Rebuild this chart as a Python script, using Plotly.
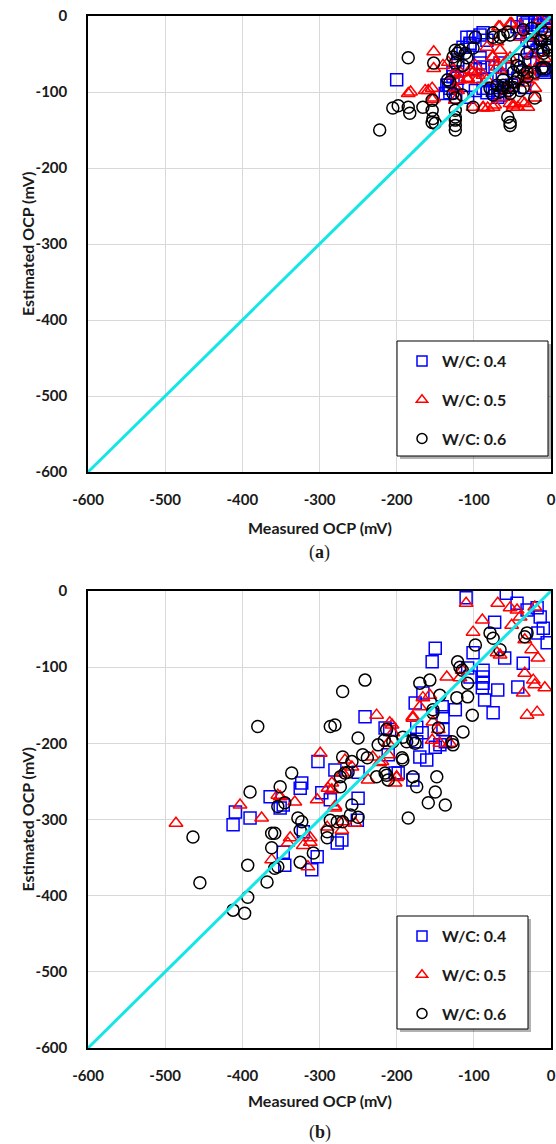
import plotly.graph_objects as go

W, H = 556, 1144

# ---- (a) measured vs. estimated OCP (mV) ----
a_wc04_measured = [-200, -135, -137, -127, -121, -121, -131, -121, -133, -127, -131, -124, -122,
                   -101, -92, -105, -92, -88, -83, -88, -83, -76, -66, -69, -60, -51, -43, -34,
                   -36, -33, -27, -14, -8, -4, -5, -12, -8, -8, -14, -18, -31, -27, -109, -105,
                   -114, -88, -83, -44, -31, -21, -10, -4, -40, -17, -10, -8, -98, -92, -76, -73,
                   -66, -69, -63, -57, -34, -27, -108, -98]
a_wc04_estimated = [-84, -91, -102, -74, -58, -65, -95, -82, -91, -80, -101, -107, -88,
                    -28, -25, -38, -55, -67, -84, -95, -101, -67, -62, -94, -98, -91, -82, -94,
                    -8, -12, -21, -2, -3, -2, -9, -71, -71, -29, -41, -45, -32, -41, -28, -36,
                    -41, -22, -32, -14, -9, -8, -3, -1, -22, -12, -69, -74, -69, -62, -98, -101,
                    -104, -107, -80, -69, -58, -61, -107, -98]

a_wc05_measured = [-152, -152, -185, -182, -163, -154, -140, -124, -127, -117, -124, -159, -152,
                   -154, -133, -124, -118, -121, -108, -101, -96, -101, -88, -75, -83, -76, -70,
                   -68, -53, -40, -72, -70, -66, -49, -37, -30, -37, -31, -25, -18, -14, -5, -1,
                   -25, -14, -8, -98, -105, -96, -108, -88, -83, -66, -51, -40, -31, -57, -53,
                   -75, -66, -56, -62, -53, -73, -82, -88, -21, -21, -34, -49, -43, -36, -28]
a_wc05_estimated = [-47, -69, -102, -100, -98, -95, -65, -95, -78, -75, -111, -98, -108,
                    -110, -61, -75, -84, -98, -82, -74, -84, -120, -121, -120, -41, -54, -34,
                    -14, -10, -12, -61, -67, -71, -120, -113, -120, -88, -84, -80, -28, -5, -10, -22,
                    -51, -61, -56, -65, -71, -75, -84, -78, -84, -14, -10, -28, -28, -58, -55,
                    -54, -45, -94, -107, -115, -117, -121, -120, -95, -108, -115, -117, -120, -78, -71]

a_wc06_measured = [-222, -185, -205, -198, -183, -185, -166, -154, -153, -154, -150, -154, -124,
                   -124, -124, -124, -121, -127, -124, -131, -127, -115, -152, -124, -134, -124,
                   -124, -109, -101, -101, -75, -62, -53, -70, -62, -55, -56, -53, -53, -47, -44,
                   -40, -36, -21, -31, -23, -14, -10, -8, -4, -12, -31, -40, -49, -53, -66, -79,
                   -75, -114, -111, -118, -98, -75, -66, -56, -36, -25, -12, -12, -5, -10, -3,
                   -44, -37, -49, -43, -31, -21, -10, -7, -62, -62, -56]
a_wc06_estimated = [-150, -55, -121, -118, -128, -120, -120, -124, -135, -140, -141, -111, -150,
                    -133, -144, -124, -49, -54, -62, -87, -102, -104, -62, -45, -84, -108,
                    -137, -55, -42, -120, -28, -25, -25, -91, -95, -98, -133, -140, -144, -87, -58,
                    -67, -94, -108, -49, -36, -32, -45, -22, -41, -69, -74, -98, -94, -102, -100, -95,
                    -104, -65, -49, -45, -28, -22, -28, -21, -18, -16, -18, -32, -38, -49, -45,
                    -65, -71, -74, -82, -80, -74, -67, -69, -84, -91, -94]

# ---- (b) measured vs. estimated OCP (mV) ----
b_wc04_measured = [-110, -58, -44, -31, -18, -14, -10, -5, -17, -73, -101, -60, -36, -150, -154,
                   -108, -105, -88, -88, -88, -89, -69, -43, -86, -75, -124, -141, -140, -176,
                   -166, -174, -167, -140, -137, -150, -144, -209, -211, -170, -161, -202, -179,
                   -241, -215, -174, -302, -280, -250, -198, -323, -325, -364, -347, -297, -286,
                   -250, -409, -390, -412, -251, -351, -347, -345, -303, -310, -277, -271, -321]
b_wc04_estimated = [-9, -3, -16, -25, -22, -34, -49, -68, -55, -41, -81, -88, -95, -75, -93,
                    -101, -113, -104, -113, -121, -127, -130, -126, -143, -160, -156, -152, -165, -147,
                    -134, -179, -186, -182, -198, -205, -202, -182, -215, -218, -222, -239, -248,
                    -165, -180, -198, -224, -235, -238, -239, -252, -259, -270, -281, -265, -274,
                    -272, -290, -298, -307, -301, -285, -343, -360, -349, -366, -331, -327, -316]

b_wc05_measured = [-110, -69, -53, -44, -40, -21, -89, -51, -101, -34, -25, -17, -70, -66, -34,
                   -23, -36, -8, -21, -31, -18, -135, -115, -118, -166, -157, -170, -179, -153,
                   -146, -154, -144, -131, -209, -205, -200, -211, -222, -226, -206, -179, -299,
                   -267, -270, -258, -231, -219, -211, -284, -289, -237, -200, -202, -354, -332,
                   -303, -280, -403, -375, -270, -254, -338, -312, -486, -362, -341, -321, -312,
                   -315, -290, -271, -351, -284, -280]
b_wc05_estimated = [-16, -16, -22, -25, -34, -21, -38, -45, -54, -64, -77, -88, -81, -84, -108,
                    -117, -134, -127, -123, -163, -159, -113, -104, -114, -140, -137, -152, -165, -172,
                    -182, -196, -200, -200, -173, -186, -245, -200, -225, -163, -176, -167, -213,
                    -222, -239, -231, -218, -224, -215, -252, -259, -248, -244, -252, -268, -277,
                    -274, -283, -281, -298, -303, -305, -324, -324, -305, -353, -331, -334, -330,
                    -362, -310, -314, -270, -261, -285]

b_wc06_measured = [-98, -79, -75, -66, -34, -31, -121, -118, -115, -108, -108, -122, -102, -114,
                   -170, -157, -144, -153, -153, -146, -128, -127, -179, -187, -192, -213, -216,
                   -192, -215, -211, -174, -148, -150, -159, -137, -241, -270, -380, -286, -280,
                   -250, -224, -205, -193, -176, -270, -258, -244, -238, -263, -273, -267, -226,
                   -213, -273, -336, -351, -390, -345, -354, -328, -323, -286, -277, -260, -258,
                   -250, -185, -362, -358, -325, -290, -179, -362, -393, -358, -368, -455, -393,
                   -464, -290, -270, -325, -308, -354, -412, -397]
b_wc06_estimated = [-71, -55, -62, -77, -60, -55, -93, -100, -104, -121, -139, -140, -163, -185,
                    -121, -117, -137, -156, -160, -180, -198, -202, -196, -198, -192, -182, -196,
                    -222, -239, -248, -257, -244, -264, -278, -281, -117, -132, -178, -178, -176,
                    -193, -202, -198, -219, -200, -218, -224, -215, -219, -238, -244, -239, -244,
                    -242, -257, -239, -257, -264, -278, -283, -298, -303, -301, -303, -294, -281,
                    -297, -298, -318, -318, -314, -316, -244, -337, -360, -364, -382, -383, -402,
                    -323, -324, -303, -356, -344, -362, -419, -423]

# 1:1 reference line
line_ref = [-600, 0]

# shared axis ticks (mV)
tick_values = [-600, -500, -400, -300, -200, -100, 0]
tick_labels = ["-600", "-500", "-400", "-300", "-200", "-100", "0"]

series_names = ["W/C: 0.4", "W/C: 0.5", "W/C: 0.6"]
series_colors = ["#0000ff", "#ff0000", "#000000"]
series_symbols = ["square-open", "triangle-up-open", "circle-open"]

TICK_FONT = dict(family="Lato", size=15, color="#1a1a1a")
TITLE_FONT = dict(family="Lato", size=16, color="#1a1a1a", weight="bold")


def px_x(p):
    return p / W


def px_y(p):
    return 1 - p / H


fig = go.Figure()

panels = [
    ("x", "y", "legend",
     [(a_wc04_measured, a_wc04_estimated), (a_wc05_measured, a_wc05_estimated),
      (a_wc06_measured, a_wc06_estimated)]),
    ("x2", "y2", "legend2",
     [(b_wc04_measured, b_wc04_estimated), (b_wc05_measured, b_wc05_estimated),
      (b_wc06_measured, b_wc06_estimated)]),
]

for xa, ya, leg, data in panels:
    for (mx, my), name, col, sym in zip(data, series_names, series_colors, series_symbols):
        fig.add_trace(go.Scatter(
            x=mx, y=my, mode="markers", xaxis=xa, yaxis=ya, showlegend=False,
            marker=dict(symbol=sym, size=12, color=col, line=dict(color=col, width=1.5)),
            name=name, hoverinfo="skip"))
    fig.add_trace(go.Scatter(
        x=line_ref, y=line_ref, mode="lines", xaxis=xa, yaxis=ya, showlegend=False,
        line=dict(color="#14e6e6", width=3), hoverinfo="skip"))
    # legend keys
    for i, (name, col, sym) in enumerate(zip(series_names, series_colors, series_symbols)):
        fig.add_trace(go.Scatter(
            x=[None], y=[None], mode="markers", xaxis=xa, yaxis=ya, name=f"<b>{name}</b>",
            legend=leg, legendgroup=f"{leg}{i}", showlegend=True,
            marker=dict(symbol=sym, size=10, color=col, line=dict(color=col, width=1.5))))

# plot area pixel extents
x_left, x_right = 88, 551
panel_a = (16, 472)
panel_b = (591, 1048)

axis_common = dict(
    range=[-600, 0], tickmode="array", tickvals=tick_values,
    ticktext=[f"<b>{t}</b>" for t in tick_labels],
    showgrid=True, gridcolor="#d9d9d9", gridwidth=1, automargin=False,
    zeroline=False, showline=True, linecolor="#000000", linewidth=1.5, mirror=True,
    ticks="", tickfont=TICK_FONT, fixedrange=True,
)

fig.update_layout(
    width=W, height=H, margin=dict(l=0, r=0, t=0, b=0, autoexpand=False),
    paper_bgcolor="white", plot_bgcolor="white",
    xaxis=dict(domain=[px_x(x_left), px_x(x_right)], anchor="y", ticklabelstandoff=13, **axis_common),
    yaxis=dict(domain=[px_y(panel_a[1]), px_y(panel_a[0])], anchor="x", ticklabelstandoff=16, **axis_common),
    xaxis2=dict(domain=[px_x(x_left), px_x(x_right)], anchor="y2", ticklabelstandoff=13, **axis_common),
    yaxis2=dict(domain=[px_y(panel_b[1]), px_y(panel_b[0])], anchor="x2", ticklabelstandoff=16, **axis_common),
)

legend_common = dict(
    bgcolor="rgba(0,0,0,0)", borderwidth=0,
    font=dict(family="Lato", size=16, color="#1a1a1a"),
    xanchor="left", yanchor="top", tracegroupgap=15, itemclick=False, itemdoubleclick=False,
)
boxes = [((397, 341), (548, 456)), ((397, 916), (528, 1029))]
fig.update_layout(
    legend=dict(x=px_x(402), y=px_y(344), **legend_common),
    legend2=dict(x=px_x(402), y=px_y(919), **legend_common),
)

shapes = []
for (bx0, by0), (bx1, by1) in boxes:
    shapes.append(dict(type="rect", xref="paper", yref="paper",
                       x0=px_x(bx0 + 3), x1=px_x(bx1 + 3), y0=px_y(by1 + 3), y1=px_y(by0 + 3),
                       fillcolor="rgba(0,0,0,0.30)", line=dict(width=0)))
    shapes.append(dict(type="rect", xref="paper", yref="paper",
                       x0=px_x(bx0), x1=px_x(bx1), y0=px_y(by1), y1=px_y(by0),
                       fillcolor="white", line=dict(color="#000000", width=1)))
fig.update_layout(shapes=shapes)

annotations = []
xc = (x_left + x_right) / 2
for (top, bottom), xt_y, cap_y, cap in [(panel_a, 527, 552, "a"), (panel_b, 1100, 1132, "b")]:
    annotations.append(dict(text="Measured OCP (mV)", xref="paper", yref="paper",
                            x=px_x(xc), y=px_y(xt_y), xanchor="center", yanchor="middle",
                            showarrow=False, font=TITLE_FONT))
    annotations.append(dict(text="Estimated OCP (mV)", xref="paper", yref="paper",
                            x=px_x(27), y=px_y((top + bottom) / 2), xanchor="center",
                            yanchor="middle", textangle=-90, showarrow=False, font=TITLE_FONT))
    annotations.append(dict(text=f"(<b>{cap}</b>)", xref="paper", yref="paper",
                            x=px_x(xc), y=px_y(cap_y), xanchor="center", yanchor="middle",
                            showarrow=False,
                            font=dict(family="Liberation Serif", size=18, color="#1a1a1a")))
fig.update_layout(annotations=annotations)

fig.write_html("out.html")
